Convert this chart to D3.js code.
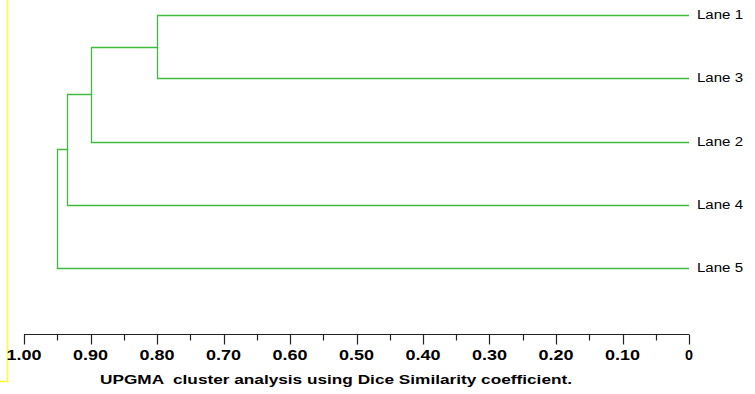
<!DOCTYPE html>
<html><head><meta charset="utf-8">
<script src="https://cdn.jsdelivr.net/npm/d3@7"></script>
<style>body{margin:0;background:#fff}svg{display:block}</style>
</head><body>
<script>
// Leaves in display order
const leaves = ["Lane 1", "Lane 3", "Lane 2", "Lane 4", "Lane 5"];
// Merge steps: [left child, right child, similarity]
const merges = [
  ["Lane 1", "Lane 3", 0.80],
  ["m1", "Lane 2", 0.90],
  ["m2", "Lane 4", 0.935],
  ["m3", "Lane 5", 0.95]
];
const tickMajor = [1.0, 0.9, 0.8, 0.7, 0.6, 0.5, 0.4, 0.3, 0.2, 0.1, 0];
const tickLabels = ["1.00","0.90","0.80","0.70","0.60","0.50","0.40","0.30","0.20","0.10","0"];
const title = "UPGMA  cluster analysis using Dice Similarity coefficient.";

const W = 755, H = 394;
const svg = d3.select("body").append("svg").attr("width", W).attr("height", H);
const font = "Liberation Sans, Arial, sans-serif";

// yellow frame
svg.append("path").attr("d", "M7.5,0 V381.5 H0").attr("fill", "none")
  .attr("stroke", "#ffff33").attr("stroke-width", 1.5);

const x = d3.scaleLinear().domain([1, 0]).range([24, 689]);
const y = d3.scalePoint().domain(leaves).range([15, 268]);

const green = "#3fbb3f";
const nodes = {};
leaves.forEach(l => nodes[l] = {x: x(0), y: y(l)});
const g = svg.append("g").attr("fill", "none").attr("stroke", green).attr("stroke-width", 1.3);
merges.forEach((m, i) => {
  const a = nodes[m[0]], b = nodes[m[1]];
  const nx = x(m[2]);
  const ax = Math.round(nx) + 0.5;
  g.append("path").attr("d",
    `M${a.x},${Math.round(a.y)+0.5} H${ax} V${Math.round(b.y)+0.5} H${b.x}`);
  nodes["m" + (i + 1)] = {x: ax, y: (a.y + b.y) / 2};
});

// labels
svg.append("g").selectAll("text").data(leaves).join("text")
  .attr("x", 697).attr("y", d => y(d) + 4)
  .attr("font-family", font).attr("font-size", 12.5)
  .attr("textLength", 46).attr("lengthAdjust", "spacingAndGlyphs")
  .attr("fill", "#000").text(d => d);

// axis
const axY = 334.5;
const ax = svg.append("g").attr("stroke", "#222").attr("stroke-width", 1.2);
ax.append("line").attr("x1", x(1)).attr("x2", x(0)).attr("y1", axY).attr("y2", axY);
const minor = d3.range(0, 20).map(i => 0.05 + i * 0.1).filter(v => v < 1);
ax.selectAll(".maj").data(tickMajor).join("line")
  .attr("x1", d => Math.round(x(d)) + 0.5).attr("x2", d => Math.round(x(d)) + 0.5)
  .attr("y1", axY).attr("y2", axY + 10);
ax.selectAll(".min").data(minor).join("line")
  .attr("x1", d => Math.round(x(d)) + 0.5).attr("x2", d => Math.round(x(d)) + 0.5)
  .attr("y1", axY).attr("y2", axY + 6);
svg.append("g").selectAll("text").data(tickMajor).join("text")
  .attr("x", d => x(d)).attr("y", 359.5).attr("text-anchor", "middle")
  .attr("font-family", font).attr("font-size", 14)
  .attr("font-weight", "bold").attr("fill", "#000")
  .attr("textLength", (d, i) => tickLabels[i].length > 1 ? 35 : 8)
  .attr("lengthAdjust", "spacingAndGlyphs")
  .text((d, i) => tickLabels[i]);

svg.append("text").attr("x", 100).attr("y", 384)
  .attr("font-family", font).attr("font-size", 13)
  .attr("font-weight", "bold").attr("fill", "#000").attr("xml:space", "preserve")
  .attr("textLength", 472).attr("lengthAdjust", "spacingAndGlyphs")
  .style("white-space", "pre").text(title);
</script>
</body></html>
